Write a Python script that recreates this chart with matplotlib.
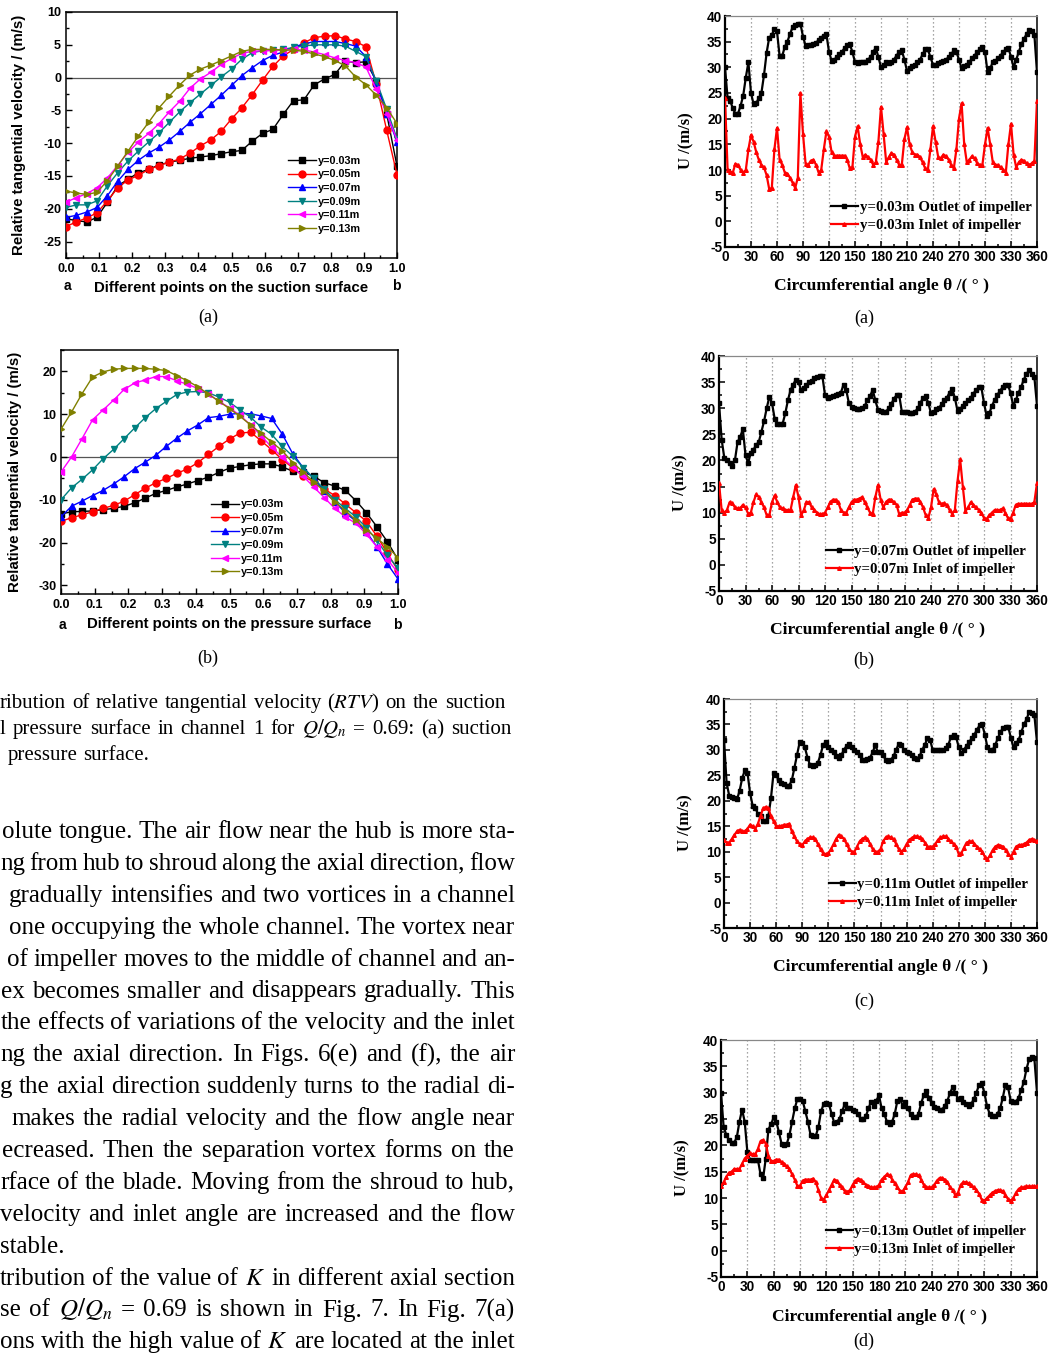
import matplotlib
matplotlib.use('Agg')
import matplotlib.pyplot as plt
from matplotlib.transforms import IdentityTransform
from matplotlib.ticker import MultipleLocator

plt.rcParams['font.family'] = ['Liberation Sans', 'DejaVu Sans']
plt.rcParams['font.weight'] = 'normal'
plt.rcParams['mathtext.fontset'] = 'stix'

# ---------------- data: blade surface RTV (left) ----------------
pts = [i / 32 for i in range(33)]
y_labels = ['y=0.03m', 'y=0.05m', 'y=0.07m', 'y=0.09m', 'y=0.11m', 'y=0.13m']
x_ticks = [0.0, 0.1, 0.2, 0.3, 0.4, 0.5, 0.6, 0.7, 0.8, 0.9, 1.0]
suc_yticks = [-25, -20, -15, -10, -5, 0, 5, 10]
pre_yticks = [-30, -20, -10, 0, 10, 20]

suc_003 = [-21.5, -21.8, -22.0, -21.3, -19.0, -16.5, -15.5, -14.5, -14.0, -13.3, -12.9, -12.6, -12.3, -12.1, -11.9, -11.6, -11.3, -11.1, -9.7, -8.5, -7.9, -5.6, -3.5, -3.4, -1.1, -0.2, 0.5, 2.5, 2.3, 2.4, -0.5, -5.5, -13.5]
suc_005 = [-22.7, -22.0, -21.4, -20.6, -18.8, -16.8, -15.6, -14.9, -14.0, -13.4, -12.9, -12.4, -11.5, -10.4, -9.5, -8.2, -6.3, -4.6, -2.6, -0.4, 1.7, 3.3, 4.3, 5.3, 6.1, 6.3, 6.4, 5.9, 5.5, 4.7, -1.0, -8.0, -14.8]
suc_007 = [-21.3, -21.0, -20.5, -19.8, -18.0, -15.8, -14.0, -12.6, -11.5, -10.6, -9.5, -8.2, -6.8, -5.5, -4.1, -2.7, -1.2, 0.3, 1.5, 2.6, 3.4, 3.9, 4.7, 5.1, 5.5, 5.5, 5.5, 5.2, 4.8, 3.2, -0.8, -5.5, -9.8]
suc_009 = [-19.8, -19.4, -19.4, -18.8, -16.5, -14.5, -12.7, -11.2, -9.8, -8.4, -6.8, -5.2, -3.8, -2.5, -1.2, 0.1, 1.3, 2.8, 3.8, 4.1, 4.2, 4.3, 4.6, 4.8, 5.0, 5.0, 5.0, 4.8, 4.0, 3.2, -0.5, -4.8, -9.3]
suc_011 = [-19.0, -18.3, -17.7, -16.8, -15.3, -13.4, -11.4, -9.8, -8.5, -7.0, -5.2, -3.6, -1.6, -0.2, 0.8, 2.0, 2.9, 3.7, 4.0, 4.1, 4.1, 4.2, 4.3, 4.2, 3.9, 3.5, 3.0, 2.6, 2.3, 1.6, -1.8, -5.5, -9.5]
suc_013 = [-17.3, -17.6, -17.8, -17.5, -15.7, -13.5, -11.2, -8.9, -6.8, -4.6, -2.8, -1.1, 0.4, 1.3, 1.9, 2.6, 3.3, 4.0, 4.3, 4.3, 4.3, 4.2, 4.2, 4.0, 3.6, 3.2, 2.6, 1.8, 0.1, -1.1, -2.7, -4.6, -7.0]

pre_003 = [-13.3, -12.8, -12.7, -12.6, -12.3, -12.0, -11.5, -10.7, -9.6, -8.5, -7.8, -7.0, -6.3, -5.5, -4.7, -3.6, -2.6, -2.2, -1.8, -1.6, -1.6, -2.3, -3.3, -3.5, -4.5, -6.0, -6.8, -7.8, -10.2, -13.0, -16.3, -19.8, -24.0]
pre_005 = [-15.0, -14.2, -13.5, -12.8, -12.0, -11.3, -10.3, -8.8, -7.3, -6.0, -5.0, -3.8, -2.8, -1.3, 0.6, 2.5, 4.2, 5.6, 5.8, 3.8, 1.7, -0.6, -2.5, -4.5, -5.8, -7.5, -9.0, -11.0, -13.0, -15.0, -18.5, -22.5, -26.5]
pre_007 = [-14.0, -11.5, -10.3, -9.0, -7.8, -6.3, -4.6, -2.7, -1.2, 0.4, 2.5, 4.4, 6.1, 7.5, 9.2, 9.5, 10.0, 10.2, 10.1, 9.6, 9.0, 5.4, 0.8, -2.5, -5.0, -8.0, -10.5, -13.0, -15.0, -17.5, -21.0, -25.0, -28.5]
pre_009 = [-10.0, -7.2, -5.2, -3.0, -0.4, 1.8, 4.3, 6.8, 9.2, 11.3, 13.0, 14.6, 15.2, 15.3, 15.0, 14.0, 12.8, 11.0, 9.3, 7.0, 5.3, 2.5, 0.2, -2.5, -5.0, -7.5, -10.0, -12.0, -14.0, -16.5, -19.5, -23.0, -26.0]
pre_011 = [-3.5, 0.0, 4.3, 8.7, 11.0, 13.3, 15.8, 17.3, 18.0, 18.8, 18.8, 17.8, 17.0, 16.0, 14.8, 13.0, 11.5, 9.7, 7.5, 5.0, 2.3, 0.0, -2.4, -4.5, -7.0, -9.5, -12.0, -14.0, -15.5, -18.0, -21.0, -24.0, -27.0]
pre_013 = [6.5, 10.5, 14.8, 18.7, 19.9, 20.5, 20.7, 20.7, 20.7, 20.5, 20.2, 19.0, 17.8, 16.4, 14.7, 13.0, 11.3, 9.5, 7.5, 5.5, 3.5, 1.5, -1.3, -3.5, -5.8, -8.0, -10.5, -12.5, -14.8, -17.0, -19.0, -21.0, -23.5]

# ---------------- data: circumferential velocity (right) ----------------
theta = list(range(0, 361, 3))
theta_ticks = list(range(0, 361, 30))
u_ticks = list(range(-5, 41, 5))

out_003 = [30, 24, 23.5, 22, 21, 21, 22.5, 24.5, 28, 31,
           25, 22.8, 23, 24, 25, 28.5, 32.8, 35.8, 36.3, 37.5,
           37, 32.2, 32.2, 34, 35, 36.5, 37.8, 38.3, 38.5, 38.5,
           36, 34.2, 34.3, 34.3, 34.5, 34.8, 35.3, 35.8, 36.2, 36.5,
           33, 31.3, 31.5, 32, 32.5, 33, 33.8, 34.3, 34.5, 33,
           31, 30.8, 31, 31, 31, 31.5, 32, 33, 33.8, 32,
           30, 30.5, 31, 30.8, 31, 31.5, 32.3, 33, 33.3, 31.5,
           29.3, 29.8, 30.3, 30.5, 31, 31.5, 32.5, 33.5, 33.5, 32,
           30.5, 30.5, 30.8, 31, 31.3, 31.5, 32, 32.5, 33.3, 33,
           31.5, 29.8, 30.3, 30.5, 31, 31.8, 32.3, 33, 33.5, 34,
           33, 29, 29.8, 31, 31.3, 31.8, 32.3, 33, 33.5, 33.8,
           32, 30, 31.5, 33, 34.5, 35.5, 36.5, 37.2, 37, 36.3,
           29]
in_003 = [24, 10, 9.7, 9.5, 11.2, 11, 10, 9.5, 10, 14,
          16.8, 15.5, 13.5, 12, 11, 10.5, 9, 6.3, 6.5, 14,
          18.2, 12, 11, 9.5, 9.3, 8.5, 7.5, 6.5, 8.5, 25,
          17, 11.2, 11, 11.8, 12, 11, 9.5, 10, 14, 17.5,
          16.5, 13.5, 12.8, 12.8, 12.8, 12.8, 12.8, 12, 10.3, 10.5,
          16.5, 18.5, 15, 12.5, 13, 12.5, 12, 11, 11.5, 15.5,
          22.3, 17, 11.5, 12.5, 13.3, 13, 12, 11, 11, 16,
          18.3, 15, 13.5, 13, 13, 12.5, 11.5, 10.3, 10, 14,
          18.5, 15.5, 12.5, 12.3, 13, 12.7, 12, 11, 10.3, 14,
          20, 23, 15, 11.5, 12, 12.7, 12.3, 11.3, 11, 11,
          15, 18.2, 15, 11.5, 11, 11, 10.5, 10, 9.5, 15,
          19, 13, 10.5, 11.5, 12, 11.8, 11.3, 11, 11.3, 11.8,
          23.5]

out_007 = [31, 24, 20.5, 20, 19.5, 19, 20, 23.5, 24.5, 26,
           21, 19.5, 21.5, 22, 23, 23.5, 25.5, 27.5, 30, 32.2,
           31, 28, 27, 27, 27, 29, 31.5, 33.5, 34.5, 35.5,
           35, 33.5, 33.8, 34.5, 35, 35.3, 35.7, 36, 36.2, 36.2,
           32.5, 32, 32.2, 32.3, 32.5, 32.7, 33, 34.5, 33.5, 31,
           30.3, 30, 29.8, 29.8, 30, 30.5, 31.5, 32.3, 33.5, 31.5,
           29.7, 29.5, 29.3, 29.3, 30, 30.8, 31.8, 32.5, 32.5, 29.3,
           29.3, 29.2, 29, 29, 29.3, 30, 31, 32, 32.3, 31,
           29, 29.3, 29.8, 30, 30.8, 31.5, 32, 33, 33.7, 32,
           29.5, 29.8, 30.5, 31, 31.5, 32, 32.8, 33.5, 34, 34,
           31, 28.5, 29, 30.5, 31.5, 32.5, 33.3, 34, 34.5, 34.5,
           33, 30.5, 31.5, 33, 34, 35.5, 36.5, 37.3, 36.5, 36,
           30.5]
in_007 = [15.7, 10.5, 10, 10.5, 12, 11.8, 11, 10.8, 10.8, 11.5,
          11, 9.8, 10, 12, 13.5, 13, 12, 11, 9.5, 9.5,
          12, 13.3, 12, 11, 10.8, 10.5, 10.5, 10.5, 13, 15.3,
          13, 9.5, 10.5, 12, 12, 11, 10.5, 10, 9.7, 9.7,
          10, 11, 12, 12.5, 12.5, 12, 10.5, 10, 10, 11,
          12, 12.5, 12.5, 12.7, 13, 12, 11, 10, 9.7, 13,
          15.3, 12.5, 11, 12, 12.5, 12.5, 12, 11.5, 9.7, 10,
          10, 10.5, 11.5, 12.5, 12.7, 12.7, 12, 11, 9.5, 9,
          11, 14.5, 13.5, 12, 11.7, 11.8, 11.5, 10.5, 9.8, 10.5,
          16, 20.2, 15, 10.3, 11, 12, 11.5, 11, 10.5, 10,
          9, 8.8, 9.5, 10, 10.5, 10.5, 10.5, 10.8, 10, 9,
          8.8, 10, 11.5, 11.7, 11.7, 11.7, 11.7, 11.7, 11.7, 12,
          15.7]

out_011 = [32, 23.5, 21, 20.7, 20.5, 20.3, 22, 24.5, 26, 25.5,
           21.5, 19, 18.5, 17.5, 17, 16, 16, 17, 20.5, 25.5,
           25, 24, 23.5, 23.3, 23, 23, 24, 26.5, 29, 31.5,
           31.3, 30.5, 28.5, 27, 26.8, 27, 27.5, 29, 31, 31.5,
           30.5, 30, 29.5, 28.8, 28.5, 29, 30, 30.8, 31.2, 30.5,
           30, 29.5, 29, 28, 28, 28.3, 28.5, 29.5, 31, 29.5,
           29.5, 29, 28, 27.8, 28, 28.8, 30, 31.2, 31, 30,
           29.5, 29.3, 29, 28.5, 28.3, 28.8, 30, 31, 32.3, 32,
           30, 30, 30, 30, 30, 30.3, 31, 32.5, 33, 32.5,
           30.5, 29.3, 30, 30.8, 31.5, 32.3, 33, 34, 34.8, 35,
           33, 30.5, 30, 30, 31, 32.3, 33.5, 34.3, 34.5, 34.5,
           32.3, 30.5, 31.3, 32, 33.5, 35, 36, 37.5, 37.3, 36.8,
           31.5]
in_011 = [12.3, 11.8, 11.8, 12.5, 13.3, 14, 14.3, 14, 14, 14.5,
          15.3, 15, 14.5, 15.5, 17, 18.5, 18.8, 18.5, 17, 16,
          15, 15, 15, 15.3, 15.3, 15.5, 14, 13, 12, 11.5,
          11.3, 12, 12.5, 12.8, 12.8, 12.5, 11.5, 10.5, 9.7, 9.5,
          9.7, 10.5, 11.5, 12.5, 13.3, 13, 12.5, 11.5, 10.5, 10,
          10, 11, 12, 12.5, 12.8, 12.5, 11.5, 10.5, 10, 10,
          10.5, 12, 12.8, 13, 12.8, 12.5, 11.5, 10.5, 10, 10.5,
          11.5, 12.3, 12.7, 13, 13, 12.8, 12.5, 11.8, 11, 11,
          11, 11.5, 12.3, 12.8, 13, 13, 12.5, 12, 11.5, 11,
          9.5, 9.7, 10.8, 11.8, 12, 12, 11.5, 11, 10.5, 10,
          9, 8.5, 9.3, 10.3, 11, 11.3, 11.2, 11, 10.3, 9.5,
          9, 10, 11, 11.3, 11.3, 11.5, 11.8, 12.3, 12.5, 12.3,
          12]

out_013 = [30, 23.5, 22, 21, 20.5, 20.5, 21.5, 24.5, 26.8, 24.5,
           18.8, 17.3, 17.3, 17.3, 17.3, 14.5, 13.8, 17.5, 23, 24,
           25.3, 24.5, 22.5, 20.3, 20, 20.3, 22, 24.5, 27, 28.8,
           28.8, 28.5, 26.5, 24.5, 22, 21.8, 21.8, 23.5, 26.5, 27.8,
           28, 27.8, 26, 24.3, 24.5, 25, 26.5, 27.8, 27, 27,
           26.8, 26.5, 26, 25, 25, 25.5, 27, 28.3, 27.5, 28.5,
           29.5, 27, 26, 24.5, 24, 24.5, 26, 28.5, 28.8, 27.5,
           28.3, 27, 26, 25.3, 25.3, 26, 28, 29.5, 30.3, 29,
           28, 27.3, 27, 26.8, 26.8, 27.5, 28.5, 30, 31, 30,
           28.8, 29, 28.3, 27.8, 27.5, 27.8, 28.8, 30, 31.5, 31.8,
           30, 27.5, 26, 25.5, 25.5, 26, 27, 29, 31.5, 31,
           28.5, 28.3, 28.3, 29, 30.5, 32, 34.5, 36.3, 36.8, 36.5,
           30]
in_013 = [12.3, 13, 14, 14.8, 15, 15.5, 15.5, 15.5, 16.5, 17.5,
          18, 18.5, 18.3, 18.3, 19.3, 20.8, 21, 20.3, 18, 17,
          17, 17.3, 17.3, 16.8, 16.5, 16, 15.5, 14.5, 13.5, 12.3,
          12.3, 13.3, 13.5, 13.5, 13.5, 13.7, 13, 11.5, 10, 9.7,
          10.5, 11.5, 12.5, 13.5, 13.3, 12.5, 12, 11.3, 11.2, 11.5,
          12.5, 13.3, 13.7, 13.5, 13, 12.5, 12.3, 12, 12, 12,
          12.5, 13.5, 14, 14.5, 14.3, 13.5, 12.8, 12, 11.3, 11.3,
          12, 13, 14.3, 14.5, 14.5, 14.3, 13.5, 12.5, 12, 12,
          12, 12.5, 13.3, 13.8, 13.8, 13.5, 13, 12, 11.5, 10.5,
          11, 12.5, 13, 13, 12.8, 12.5, 12, 11.5, 10.8, 9.7,
          9.5, 10, 10.5, 11, 11.3, 11.5, 11.5, 11.3, 10.5, 9.8,
          9.5, 10, 11, 11.7, 12, 12, 12.2, 12.2, 12.2, 12.2,
          12.2]

right_series = [('0.03', out_003, in_003), ('0.07', out_007, in_007),
                ('0.11', out_011, in_011), ('0.13', out_013, in_013)]

# ---------------- figure ----------------
W, H = 1050, 1355
fig = plt.figure(figsize=(W / 100, H / 100), dpi=100)


def add_ax(l, t, r, b):
    return fig.add_axes([l / W, 1 - b / H, (r - l) / W, (b - t) / H])


colors = ['black', '#ff0000', '#0000ff', '#008080', '#ff00ff', '#808000']
markers = ['s', 'o', '^', 'v', '<', '>']


def left_plot(box, series, ylim, yticks, ymin, xlabel, leg_anchor, ylab_x, xlab_y, ab_y):
    ax = add_ax(*box)
    ax.axhline(0, color='#555555', lw=0.9, zorder=1)
    for ys, c, m, lab in zip(series, colors, markers, y_labels):
        ax.plot(pts, ys, color=c, marker=m, ms=5, lw=1.0, label=lab, zorder=3)
    ax.set_xlim(0, 1.0)
    ax.set_ylim(*ylim)
    ax.set_xticks(x_ticks, [f'{v:.1f}' for v in x_ticks], fontsize=9, fontweight='bold')
    ax.set_yticks(yticks, [f'{v:g}' for v in yticks], fontsize=9, fontweight='bold')
    ax.xaxis.set_minor_locator(MultipleLocator(0.05))
    ax.yaxis.set_minor_locator(MultipleLocator(ymin))
    ax.tick_params(which='both', direction='in', width=1)
    ax.tick_params(which='major', length=4)
    ax.tick_params(which='minor', length=2)
    for s in ax.spines.values():
        s.set_linewidth(1.1)
    ax.set_ylabel('Relative tangential velocity / (m/s)', fontsize=10.8, fontweight='bold')
    ax.yaxis.set_label_coords(ylab_x, 0.5)
    ax.set_xlabel(xlabel, fontsize=10.8, fontweight='bold')
    ax.xaxis.set_label_coords(0.5, xlab_y)
    ax.text(0.003, ab_y, 'a', transform=ax.transAxes, fontsize=10, fontweight='bold',
            ha='center', va='center')
    ax.text(0.997, ab_y, 'b', transform=ax.transAxes, fontsize=10, fontweight='bold',
            ha='center', va='center')
    ax.legend(loc='upper left', bbox_to_anchor=leg_anchor, frameon=False,
              prop=dict(family='Liberation Sans', weight='bold', size=7.8),
              handlelength=2.6, handletextpad=0.2, labelspacing=0.33,
              borderpad=0, borderaxespad=0)
    return ax


left_plot((66, 12, 397, 258), [suc_003, suc_005, suc_007, suc_009, suc_011, suc_013],
          (-27.5, 10), suc_yticks, 2.5, 'Different points on the suction surface',
          (0.67, 0.415), -0.122, -0.093, -0.114)
left_plot((61, 350, 398, 594), [pre_003, pre_005, pre_007, pre_009, pre_011, pre_013],
          (-32, 25), pre_yticks, 5, 'Different points on the pressure surface',
          (0.445, 0.388), -0.117, -0.094, -0.127)

right_boxes = [((725, 16, 1037, 247), (0.34, 0.199)),
               ((719, 356, 1037, 591), (0.336, 0.196)),
               ((724, 699, 1037, 928), (0.335, 0.219)),
               ((721, 1040, 1037, 1277), (0.332, 0.219))]

for (box, anchor), (yv, outv, inv) in zip(right_boxes, right_series):
    ax = add_ax(*box)
    for xv in range(30, 360, 30):
        ax.axvline(xv, color='#888888', ls=(0, (1, 2.2)), lw=0.9, zorder=0)
    ax.plot(theta, outv, color='black', marker='s', ms=2.6, lw=1.6,
            label=f'y={yv}m Outlet of impeller', zorder=3)
    ax.plot(theta, inv, color='#ff0000', marker='^', ms=2.6, lw=1.6,
            label=f'y={yv}m Inlet of impeller', zorder=3)
    ax.set_xlim(0, 360)
    ax.set_ylim(-5, 40)
    ax.set_xticks(theta_ticks, [str(v) for v in theta_ticks], fontsize=9.8, fontweight='bold')
    ax.set_yticks(u_ticks, [str(v) for v in u_ticks], fontsize=9.8, fontweight='bold')
    ax.xaxis.set_minor_locator(MultipleLocator(15))
    ax.yaxis.set_minor_locator(MultipleLocator(2.5))
    ax.tick_params(which='both', direction='in', width=1.1, pad=2)
    ax.tick_params(which='major', length=4)
    ax.tick_params(which='minor', length=2)
    ax.spines['left'].set_linewidth(1.6)
    ax.spines['bottom'].set_linewidth(1.6)
    ax.spines['right'].set_linewidth(1.1)
    ax.spines['top'].set_linewidth(0.9)
    ax.spines['top'].set_color('#888888')
    ax.set_ylabel('U /(m/s)', family='Liberation Serif', fontsize=12, fontweight='bold')
    ax.yaxis.set_label_coords(-0.097, 0.46)
    ax.set_xlabel('Circumferential angle θ /( ° )', family='Liberation Serif',
                  fontsize=12.6, fontweight='bold')
    ax.xaxis.set_label_coords(0.5, -0.134)
    ax.legend(loc='upper left', bbox_to_anchor=anchor, frameon=False,
              prop=dict(family='Liberation Serif', weight='bold', size=10.7),
              handlelength=1.8, handletextpad=0.12, labelspacing=0.28,
              borderpad=0, borderaxespad=0)

# sub-figure labels
for (x, y, s) in [(208, 317, '(a)'), (208, 658, '(b)'), (864, 318, '(a)'),
                  (864, 660, '(b)'), (864, 1001, '(c)'), (864, 1341, '(d)')]:
    fig.text(x / W, 1 - y / H, s, family='Liberation Serif',
             fontsize=13, ha='center', va='center')

# ---------------- body text ----------------
renderer = fig.canvas.get_renderer()


def put_line(words, yc, x0, x1, size, justify=True, dy=6):
    base = H - (yc + dy)
    ts = [fig.text(0, base, w, transform=IdentityTransform(), fontsize=size,
                   family='Liberation Serif', va='baseline', ha='left')
          for w in words]
    ws = [t.get_window_extent(renderer).width for t in ts]
    if justify and len(ts) > 1:
        gap = (x1 - x0 - sum(ws)) / (len(ts) - 1)
    else:
        gap = size * 100 / 72 * 0.25
    x = x0
    for t, w in zip(ts, ws):
        t.set_x(x)
        x += w + gap


caption = [
    ("ribution of relative tangential velocity ($RTV$) on the suction", 703, 0, 505, True),
    ("l pressure surface in channel 1 for $Q/Q_n$ = 0.69: (a) suction", 729, 0, 512, True),
    ("pressure surface.", 755, 8, 512, False),
]
for s, yc, x0, x1, j in caption:
    put_line(s.split(' '), yc, x0, x1, 15, j, dy=5)

para = [
    ("olute tongue. The air flow near the hub is more sta-", 2, True),
    ("ng from hub to shroud along the axial direction, flow", 0, True),
    ("gradually intensifies and two vortices in a channel", 9, True),
    ("one occupying the whole channel. The vortex near", 9, True),
    ("of impeller moves to the middle of channel and an-", 7, True),
    ("ex becomes smaller and disappears gradually. This", 1, True),
    ("the effects of variations of the velocity and the inlet", 1, True),
    ("ng the axial direction. In Figs. 6(e) and (f), the air", 0, True),
    ("g the axial direction suddenly turns to the radial di-", 0, True),
    ("makes the radial velocity and the flow angle near", 11, True),
    ("ecreased. Then the separation vortex forms on the", 2, True),
    ("rface of the blade. Moving from the shroud to hub,", 0, True),
    ("velocity and inlet angle are increased and the flow", 0, True),
    ("stable.", 0, False),
    ("tribution of the value of $K$ in different axial section", 0, True),
    ("se of $Q/Q_n$ = 0.69 is shown in Fig. 7. In Fig. 7(a)", 0, True),
    ("ons with the high value of $K$ are located at the inlet", 0, True),
]
for i, (s, x0, j) in enumerate(para):
    put_line(s.split(' '), 832 + i * 31.9, x0, 515, 18, j, dy=6)

fig.savefig('out.png', dpi=100)
